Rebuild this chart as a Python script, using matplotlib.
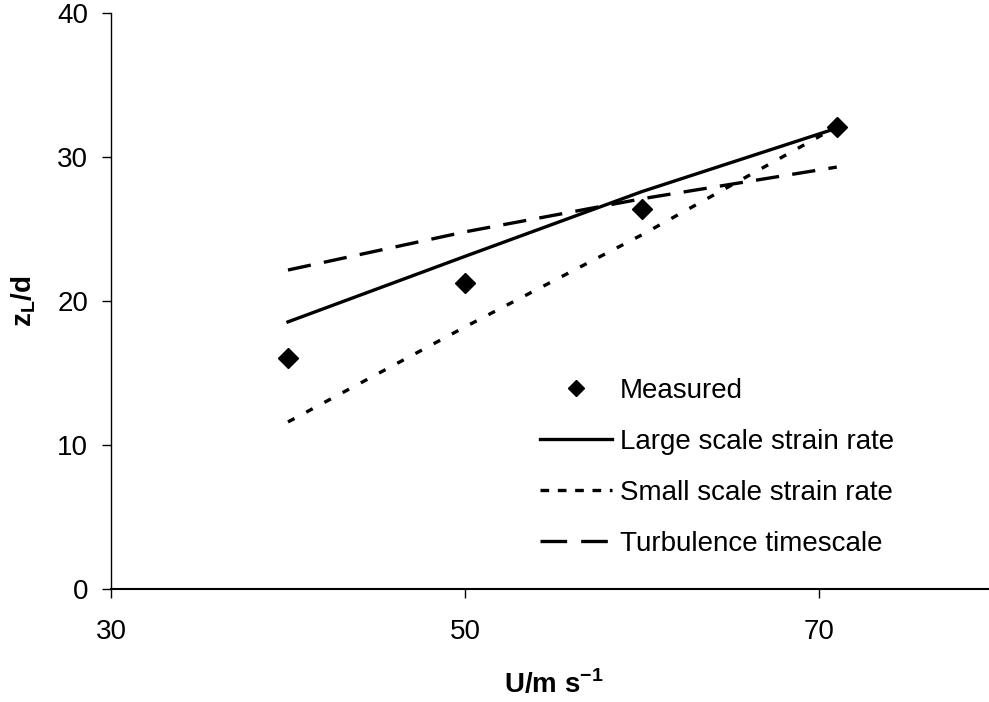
import matplotlib

matplotlib.use('Agg')
import matplotlib.pyplot as plt
from matplotlib.lines import Line2D

plt.rcParams['font.family'] = ['Liberation Sans', 'DejaVu Sans']
plt.rcParams['mathtext.fontset'] = 'custom'
plt.rcParams['mathtext.bf'] = 'Liberation Sans:bold'
plt.rcParams['mathtext.rm'] = 'Liberation Sans'

# data
measured_x = [40, 50, 60, 71]
measured_y = [16.05, 21.25, 26.4, 32.1]

model_x = [40, 50, 60, 71]
large_scale = [18.55, 23.1, 27.6, 32.0]
small_scale = [11.6, 18.2, 24.6, 32.1]
turbulence = [22.15, 24.8, 27.1, 29.3]

labels = ['Measured', 'Large scale strain rate', 'Small scale strain rate',
          'Turbulence timescale']

x_ticks = [30, 50, 70]
y_ticks = [0, 10, 20, 30, 40]

fig = plt.figure(figsize=(9.89, 7.02), dpi=100)
ax = fig.add_axes([0.1122, 0.161, 0.895, 0.8205])

ax.plot(measured_x, measured_y, linestyle='none', marker='D', markersize=10.5,
        color='black')
ax.plot(model_x, large_scale, color='black', lw=2.4)
ax.plot(model_x, small_scale, color='black', lw=2.4, dashes=(2.2, 4.0))
ax.plot(model_x, turbulence, color='black', lw=2.4, dashes=(7.0, 4.0))

ax.set_xlim(30, 80)
ax.set_ylim(0, 40)
ax.set_xticks(x_ticks)
ax.set_yticks(y_ticks)
ax.tick_params(axis='both', direction='out', length=6.5, width=1, labelsize=20)
ax.tick_params(axis='x', pad=15)
ax.tick_params(axis='y', pad=10)

for side in ['top', 'right']:
    ax.spines[side].set_visible(False)
ax.spines['left'].set_linewidth(1)
ax.spines['bottom'].set_linewidth(1.5)

ax.set_xlabel(r'U/m s$^{\mathbf{-1}}$', fontsize=20, fontweight='bold')
ax.xaxis.set_label_coords(0.5, -0.14)
ax.set_ylabel(r'z$_{\mathbf{L}}$/d', fontsize=20, fontweight='bold', labelpad=14)

# legend handles use the shorter dash pattern seen in the key
handles = [
    Line2D([], [], linestyle='none', marker='D', markersize=8.5, color='black'),
    Line2D([], [], color='black', lw=2.4),
    Line2D([], [], color='black', lw=2.4, dashes=(2.6, 2.6)),
    Line2D([], [], color='black', lw=2.4, dashes=(8.0, 4.2)),
]
ax.legend(handles, labels, loc='lower left', bbox_to_anchor=(0.456, 0.012),
          frameon=False, fontsize=20, handlelength=2.6, handletextpad=0.3,
          labelspacing=0.9)

fig.savefig('out.png', dpi=100)
